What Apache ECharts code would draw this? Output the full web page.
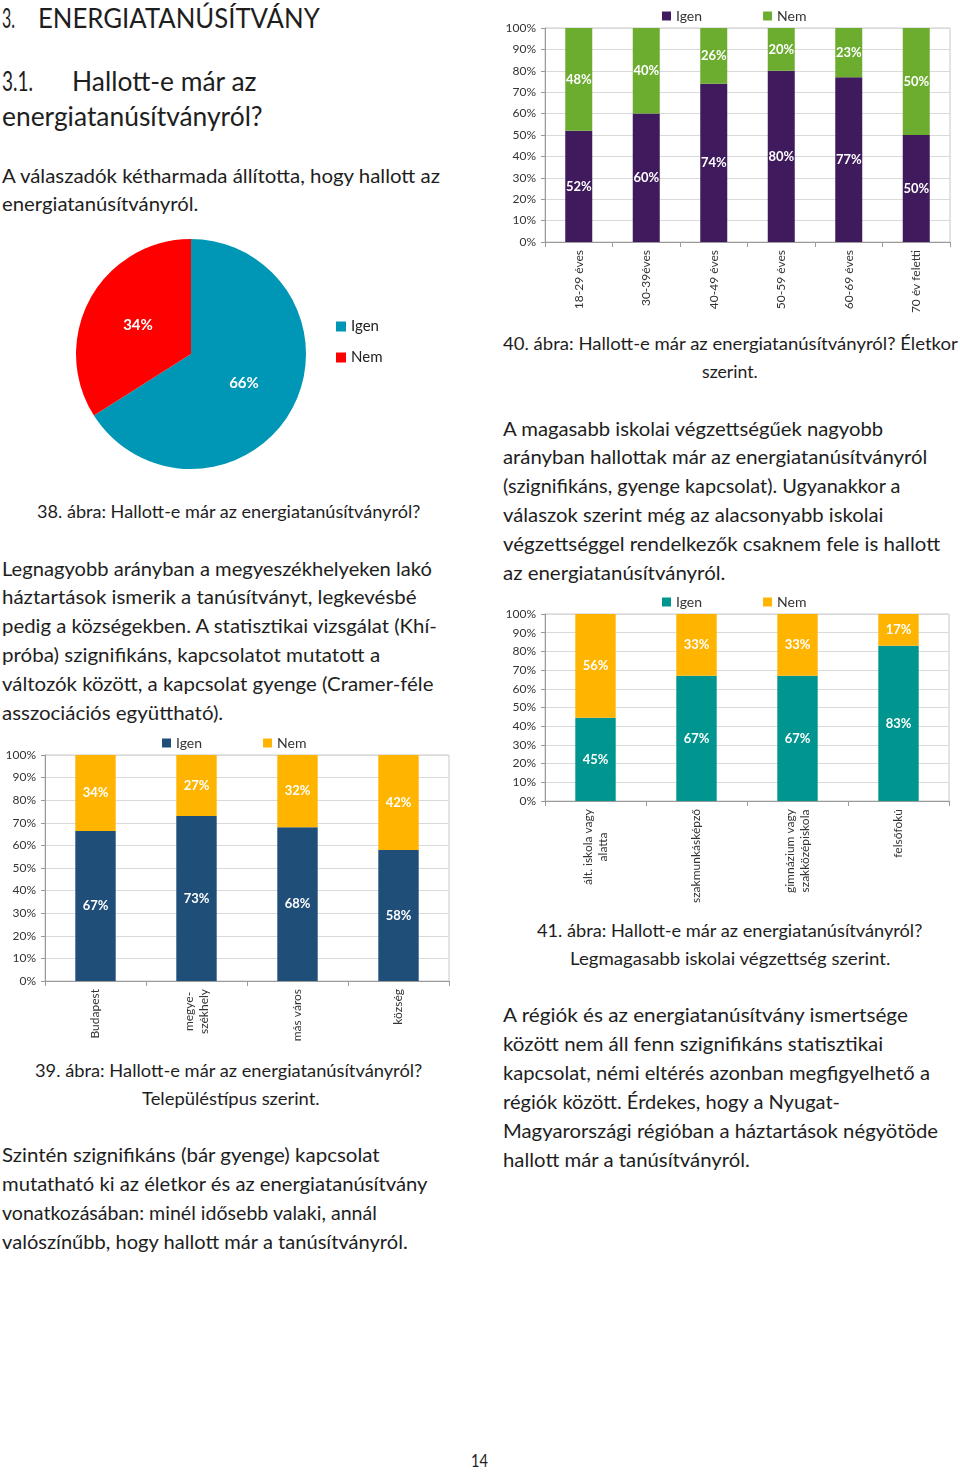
<!DOCTYPE html>
<html><head><meta charset="utf-8">
<script src="https://cdn.jsdelivr.net/npm/echarts@6/dist/echarts.min.js"></script>
<style>
html,body{margin:0;padding:0;background:#fff;}
body{width:960px;height:1474px;position:relative;overflow:hidden;font-family:Lato,'Open Sans',sans-serif;color:#1e1e1e;}
.ln{position:absolute;white-space:nowrap;transform-origin:0 50%;line-height:1.2;display:inline-block;}
.ch{position:absolute;}
</style></head><body>
<div id="c38" class="ch" style="left:60px;top:230px;width:400px;height:250px"></div>
<div id="c39" class="ch" style="left:0px;top:730px;width:480px;height:320px"></div>
<div id="c40" class="ch" style="left:495px;top:0px;width:465px;height:330px"></div>
<div id="c41" class="ch" style="left:495px;top:590px;width:465px;height:320px"></div>
<script>
// ---- data ----
const pieNames = ['Igen', 'Nem'];
const pieValues = [66, 34];

const settleCats = ['Budapest', 'megye-\nszékhely', 'más város', 'község'];
const settleIgen = [67, 73, 68, 58];
const settleNem = [34, 27, 32, 42];

const ageCats = ['18-29 éves', '30-39éves', '40-49 éves', '50-59 éves', '60-69 éves', '70 év feletti'];
const ageIgen = [52, 60, 74, 80, 77, 50];
const ageNem = [48, 40, 26, 20, 23, 50];

const eduCats = ['ált. iskola vagy\nalatta', 'szakmunkásképző', 'gimnázium vagy\nszakközépiskola', 'felsőfokú'];
const eduIgen = [45, 67, 67, 83];
const eduNem = [56, 33, 33, 17];

const seriesNames = ['Igen', 'Nem'];

// ---- page text ----
const lines = [
  ['3.', 2, 15, 21, 27, 400],
  ['ENERGIATANÚSÍTVÁNY', 38, 320, 21, 27, 400],
  ['3.1.', 2, 33, 84, 27, 400],
  ['Hallott-e már az', 72, 257, 84, 27, 400],
  ['energiatanúsítványról?', 2, 263, 119, 27, 400],
  ['A válaszadók kétharmada állította, hogy hallott az', 2, 440, 177, 20, 400],
  ['energiatanúsítványról.', 2, 198, 205, 20, 400],
  ['38. ábra: Hallott-e már az energiatanúsítványról?', 37, 420, 514, 18, 400],
  ['Legnagyobb arányban a megyeszékhelyeken lakó', 2, 432, 570, 20, 400],
  ['háztartások ismerik a tanúsítványt, legkevésbé', 2, 417, 598, 20, 400],
  ['pedig a községekben. A statisztikai vizsgálat (Khí-', 2, 437, 627, 20, 400],
  ['próba) szignifikáns, kapcsolatot mutatott a', 2, 380, 656, 20, 400],
  ['változók között, a kapcsolat gyenge (Cramer-féle', 2, 433, 685, 20, 400],
  ['asszociációs együttható).', 2, 223, 714, 20, 400],
  ['39. ábra: Hallott-e már az energiatanúsítványról?', 35, 422, 1073, 18, 400],
  ['Településtípus szerint.', 142, 320, 1101, 18, 400],
  ['Szintén szignifikáns (bár gyenge) kapcsolat', 2, 380, 1156, 20, 400],
  ['mutatható ki az életkor és az energiatanúsítvány', 2, 427, 1185, 20, 400],
  ['vonatkozásában: minél idősebb valaki, annál', 2, 377, 1214, 20, 400],
  ['valószínűbb, hogy hallott már a tanúsítványról.', 2, 408, 1243, 20, 400],
  ['40. ábra: Hallott-e már az energiatanúsítványról? Életkor', 503, 958, 346, 18, 400],
  ['szerint.', 702, 758, 374, 18, 400],
  ['A magasabb iskolai végzettségűek nagyobb', 503, 883, 430, 20, 400],
  ['arányban hallottak már az energiatanúsítványról', 503, 927, 458, 20, 400],
  ['(szignifikáns, gyenge kapcsolat). Ugyanakkor a', 503, 900, 487, 20, 400],
  ['válaszok szerint még az alacsonyabb iskolai', 503, 883, 516, 20, 400],
  ['végzettséggel rendelkezők csaknem fele is hallott', 503, 940, 545, 20, 400],
  ['az energiatanúsítványról.', 503, 725, 574, 20, 400],
  ['41. ábra: Hallott-e már az energiatanúsítványról?', 537, 922, 933, 18, 400],
  ['Legmagasabb iskolai végzettség szerint.', 570, 890, 961, 18, 400],
  ['A régiók és az energiatanúsítvány ismertsége', 503, 908, 1016, 20, 400],
  ['között nem áll fenn szignifikáns statisztikai', 503, 883, 1045, 20, 400],
  ['kapcsolat, némi eltérés azonban megfigyelhető a', 503, 930, 1074, 20, 400],
  ['régiók között. Érdekes, hogy a Nyugat-', 503, 840, 1103, 20, 400],
  ['Magyarországi régióban a háztartások négyötöde', 503, 938, 1132, 20, 400],
  ['hallott már a tanúsítványról.', 503, 750, 1161, 20, 400],
  ['14', 471, 488, 1463, 18, 400]
];
const spans = [];
lines.forEach(l => {
  const s = document.createElement('span');
  s.className = 'ln';
  s.textContent = l[0];
  s.style.left = l[1] + 'px';
  s.style.fontSize = l[4] + 'px';
  s.style.fontWeight = l[5];
  s.style.top = (l[3] - 0.72 * l[4]) + 'px';
  document.body.appendChild(s);
  spans.push([s, l]);
});
function fit() {
  spans.forEach(([s, l]) => {
    const w = s.offsetWidth;
    const target = l[2] - l[1];
    if (w > 0) s.style.transform = 'scaleX(' + (target / w).toFixed(4) + ')';
  });
}
fit();
if (document.fonts && document.fonts.ready) document.fonts.ready.then(fit);

// ---- charts ----
const FONT = 'Lato';
const pie = echarts.init(document.getElementById('c38'), null, {renderer: 'canvas'});
pie.setOption({
  animation: false,
  textStyle: {fontFamily: FONT},
  color: ['#0097b6', '#ff0000'],
  legend: {
    orient: 'vertical', left: 276, top: 89, padding: 0, itemWidth: 10, itemHeight: 10, itemGap: 16, icon: 'rect',
    textStyle: {fontSize: 15, color: '#222', fontFamily: FONT}, itemStyle: {borderWidth: 0},
    data: pieNames
  },
  series: [{
    type: 'pie', center: [131, 124], radius: 115, startAngle: 90, clockwise: true,
    label: {position: 'inside', formatter: '{c}%', color: '#fff', fontWeight: 'bold', fontSize: 15, fontFamily: FONT},
    labelLine: {show: false},
    itemStyle: {borderWidth: 0},
    emphasis: {disabled: true},
    data: pieNames.map((n, i) => ({name: n, value: pieValues[i]}))
  }]
});

function stacked(id, cats, igen, nem, colors, grid, legendPos, barW, valFont) {
  const ch = echarts.init(document.getElementById(id), null, {renderer: 'canvas'});
  const mk = (arr, other) => arr.map((v, i) => ({value: v / (v + other[i]) * 100, raw: v}));
  const lab = {
    show: true, position: 'inside', color: '#fff', fontWeight: 'bold', fontSize: valFont, fontFamily: FONT,
    formatter: p => p.data.raw + '%'
  };
  ch.setOption({
    animation: false,
    textStyle: {fontFamily: FONT},
    color: colors,
    legend: {
      left: legendPos[0], top: legendPos[1], padding: 0, icon: 'rect', itemWidth: 9, itemHeight: 9, itemGap: 61,
      textStyle: {fontSize: 14, color: '#333', fontFamily: FONT}, itemStyle: {borderWidth: 0},
      data: seriesNames
    },
    grid: Object.assign({show: true, borderColor: '#c8c8c8', borderWidth: 1, containLabel: false}, grid),
    xAxis: {
      type: 'category', data: cats,
      axisLine: {lineStyle: {color: '#9a9a9a'}},
      axisTick: {show: true, length: 5, lineStyle: {color: '#9a9a9a'}},
      axisLabel: {
        rotate: 90, margin: 8, interval: 0, color: '#333', fontSize: 12, fontFamily: FONT,
        formatter: v => v.split('\n').map(s => '{c|' + s + '}').join('\n'),
        rich: {c: {align: 'center', fontSize: 12, lineHeight: 15, color: '#333', fontFamily: FONT}}
      }
    },
    yAxis: {
      type: 'value', min: 0, max: 100, interval: 10,
      axisLine: {show: true, lineStyle: {color: '#9a9a9a'}},
      axisTick: {show: true, length: 4, lineStyle: {color: '#9a9a9a'}},
      axisLabel: {formatter: '{value}%', color: '#333', fontSize: 12, margin: 9, fontFamily: FONT},
      splitLine: {show: true, lineStyle: {color: '#dadada'}}
    },
    series: [
      {name: seriesNames[0], type: 'bar', stack: 't', barWidth: barW, data: mk(igen, nem), label: lab, emphasis: {disabled: true}},
      {name: seriesNames[1], type: 'bar', stack: 't', barWidth: barW, data: mk(nem, igen), label: lab, emphasis: {disabled: true}}
    ]
  });
}
stacked('c39', settleCats, settleIgen, settleNem, ['#1f4e79', '#ffb400'],
  {left: 45, right: 31, top: 25, bottom: 69}, [162, 6], '40%', 13);
stacked('c40', ageCats, ageIgen, ageNem, ['#3f1a5c', '#6cad2f'],
  {left: 50, right: 10, top: 28, bottom: 88}, [167, 9], '40%', 13);
stacked('c41', eduCats, eduIgen, eduNem, ['#00968f', '#ffb400'],
  {left: 50, right: 11, top: 24, bottom: 109}, [167, 5], '40%', 13);
</script>
</body></html>
